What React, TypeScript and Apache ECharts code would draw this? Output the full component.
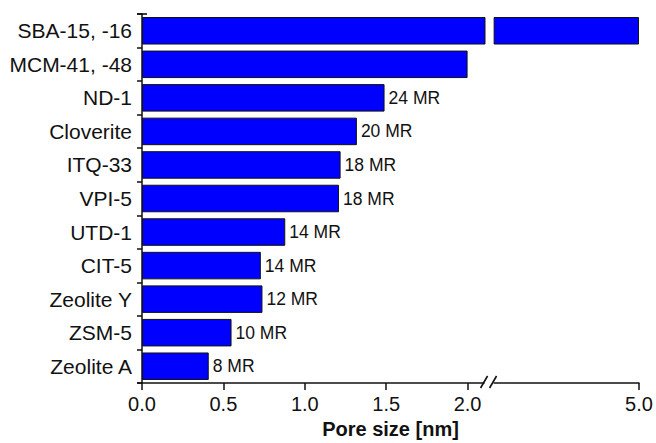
import React, { useEffect, useRef } from "react";
import * as echarts from "echarts";

const categories = [
  "SBA-15, -16",
  "MCM-41, -48",
  "ND-1",
  "Cloverite",
  "ITQ-33",
  "VPI-5",
  "UTD-1",
  "CIT-5",
  "Zeolite Y",
  "ZSM-5",
  "Zeolite A",
];
const poreSizes = [5.0, 2.0, 1.49, 1.32, 1.22, 1.21, 0.88, 0.73, 0.74, 0.55, 0.41];
const ringLabels = ["", "", "24 MR", "20 MR", "18 MR", "18 MR", "14 MR", "14 MR", "12 MR", "10 MR", "8 MR"];
const tickValues = [0.0, 0.5, 1.0, 1.5, 2.0, 5.0];

// broken axis: linear up to BREAK_LO, gap, then compressed segment up to 5.0
const BREAK_LO = 2.11;
const BREAK_HI = 2.16;
const AXIS_END = 5.0;
const AXIS_MAX = 3.053;
const toAxis = (v: number) =>
  v <= BREAK_LO ? v : BREAK_HI + ((v - BREAK_HI) * (AXIS_MAX - BREAK_HI)) / (AXIS_END - BREAK_HI);

const FONT = 'Arial, "Liberation Sans", sans-serif';
const GRID = { left: 142, right: 17, top: 14, bottom: 60 };
const BLUE = "#0000fe";

export default function App() {
  const ref = useRef<HTMLDivElement>(null);
  useEffect(() => {
    if (!ref.current) return;
    const chart = echarts.init(ref.current, null, { renderer: "svg" });
    const barStyle = { color: BLUE, borderColor: "#111", borderWidth: 1 };
    chart.setOption({
      animation: false,
      backgroundColor: "#fff",
      textStyle: { fontFamily: FONT },
      grid: { ...GRID, containLabel: false, outerBoundsMode: "none" },
      xAxis: {
        type: "value",
        min: 0,
        max: AXIS_MAX,
        name: "Pore size [nm]",
        nameLocation: "middle",
        nameGap: 34,
        nameTextStyle: { fontSize: 20, fontWeight: "bold", color: "#111", fontFamily: FONT },
        axisLine: { show: true, lineStyle: { color: "#111", width: 1.5 } },
        axisTick: { show: true, length: 7, lineStyle: { color: "#111", width: 1.5 }, customValues: tickValues.map(toAxis) },
        axisLabel: {
          fontSize: 20,
          color: "#111",
          margin: 11,
          fontFamily: FONT,
          customValues: tickValues.map(toAxis),
          formatter: (val: number) => {
            let best = 0;
            tickValues.forEach((t, i) => {
              if (Math.abs(toAxis(t) - val) < Math.abs(toAxis(tickValues[best]) - val)) best = i;
            });
            return tickValues[best].toFixed(1);
          },
        },
        splitLine: { show: false },
      },
      yAxis: {
        type: "category",
        inverse: true,
        data: categories,
        axisLine: { show: true, lineStyle: { color: "#111", width: 1.5 } },
        axisTick: { show: true, length: 5, alignWithLabel: false, lineStyle: { color: "#111", width: 1.5 } },
        axisLabel: { fontSize: 21, color: "#111", margin: 10, fontFamily: FONT },
        splitLine: { show: false },
      },
      series: [
        {
          type: "bar",
          stack: "pore",
          barCategoryGap: "18%",
          data: poreSizes.map((v) => Math.min(toAxis(v), BREAK_LO)),
          itemStyle: barStyle,
          label: {
            show: true,
            position: "right",
            distance: 4,
            fontSize: 17.5,
            color: "#111",
            fontFamily: FONT,
            formatter: (p: any) => ringLabels[p.dataIndex],
          },
        },
        {
          type: "bar",
          stack: "pore",
          data: poreSizes.map((v) => (v > BREAK_LO ? BREAK_HI - BREAK_LO : "-")),
          itemStyle: { color: "rgba(0,0,0,0)", borderWidth: 0 },
          silent: true,
        },
        {
          type: "bar",
          stack: "pore",
          data: poreSizes.map((v) => (v > BREAK_LO ? toAxis(v) - BREAK_HI : "-")),
          itemStyle: barStyle,
        },
      ],
    });

    const px = chart.convertToPixel({ xAxisIndex: 0 }, (BREAK_LO + BREAK_HI) / 2) as number;
    const axisY = chart.getHeight() - GRID.bottom;
    const lineStyle = { stroke: "#111", lineWidth: 1.6 };
    chart.setOption({
      graphic: [
        { type: "rect", shape: { x: px - 5, y: axisY - 2, width: 9, height: 4 }, style: { fill: "#fff" }, z: 100 },
        { type: "line", shape: { x1: px - 9, y1: axisY + 5, x2: px - 2, y2: axisY - 7 }, style: lineStyle, z: 101 },
        { type: "line", shape: { x1: px + 0, y1: axisY + 5, x2: px + 7, y2: axisY - 7 }, style: lineStyle, z: 101 },
        { type: "line", shape: { x1: GRID.left - 5, y1: axisY, x2: GRID.left, y2: axisY }, style: lineStyle, z: 101 },
        { type: "line", shape: { x1: GRID.left - 5, y1: GRID.top, x2: GRID.left + 5, y2: GRID.top }, style: lineStyle, z: 101 },
      ],
    });
    return () => chart.dispose();
  }, []);
  return <div ref={ref} style={{ position: "fixed", left: 0, top: 0, width: 656, height: 443 }} />;
}
